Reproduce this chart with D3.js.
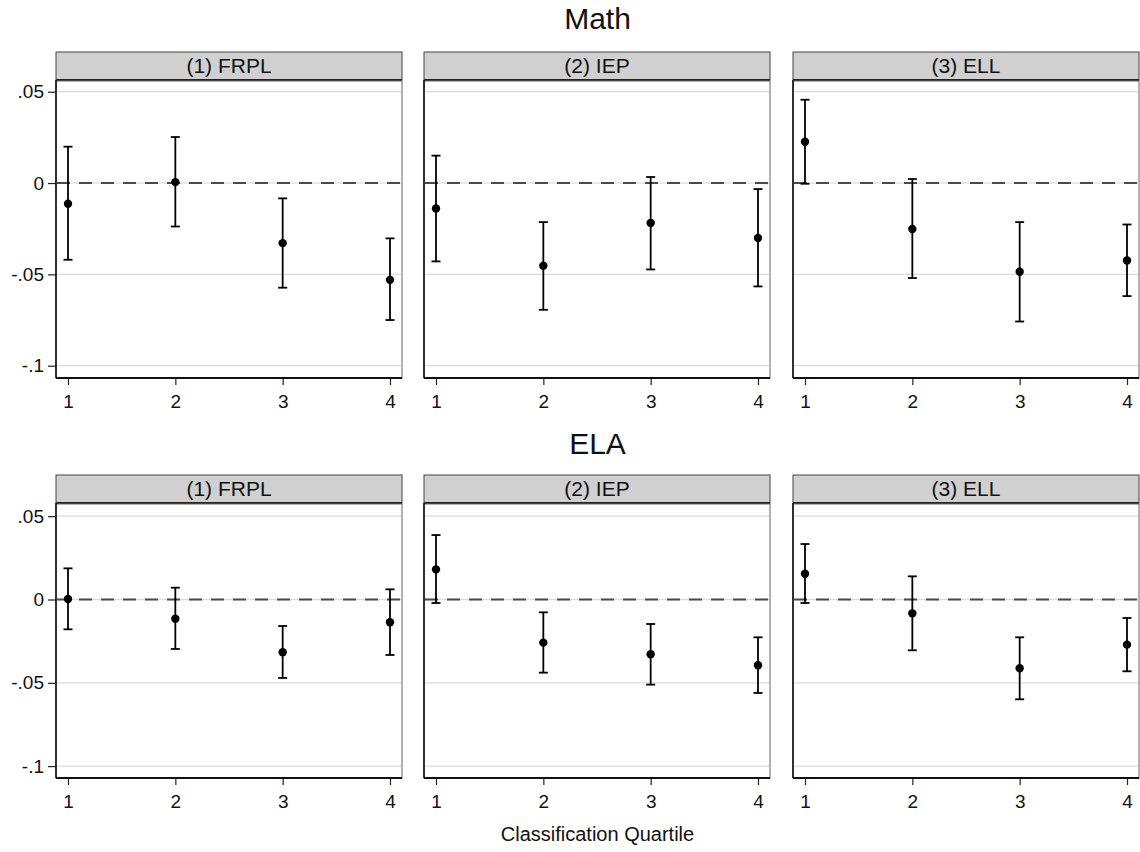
<!DOCTYPE html>
<html>
<head>
<meta charset="utf-8">
<script src="https://cdn.jsdelivr.net/npm/d3@7"></script>
<style>
  body { margin: 0; background: #fff; }
  svg text { font-family: "Liberation Sans", Arial, sans-serif; fill: #111; }
</style>
</head>
<body>
<svg id="chart" width="1140" height="852"></svg>
<script>
// values
const quartiles = [1, 2, 3, 4];
const panelNames = ["(1) FRPL", "(2) IEP", "(3) ELL"];
const subjects = ["Math", "ELA"];
const yTicks = [0.05, 0, -0.05, -0.1];
const yTickLabels = [".05", "0", "-.05", "-.1"];
const xTitle = "Classification Quartile";

const mathEst = [[-0.0113, 0.0005, -0.0329, -0.0530], [-0.0139, -0.0453, -0.0219, -0.0301], [0.0226, -0.0252, -0.0486, -0.0424]];
const mathLo  = [[-0.0420, -0.0238, -0.0573, -0.0750], [-0.0429, -0.0694, -0.0473, -0.0566], [-0.0004, -0.0520, -0.0758, -0.0619]];
const mathHi  = [[0.0199, 0.0252, -0.0084, -0.0303], [0.0150, -0.0214, 0.0033, -0.0033], [0.0456, 0.0022, -0.0214, -0.0227]];

const elaEst = [[0.0003, -0.0115, -0.0317, -0.0137], [0.0181, -0.0259, -0.0329, -0.0395], [0.0155, -0.0083, -0.0413, -0.0271]];
const elaLo  = [[-0.0179, -0.0297, -0.0471, -0.0333], [-0.0021, -0.0439, -0.0511, -0.0561], [-0.0021, -0.0305, -0.0599, -0.0431]];
const elaHi  = [[0.0187, 0.0071, -0.0159, 0.0061], [0.0387, -0.0077, -0.0147, -0.0227], [0.0333, 0.0139, -0.0227, -0.0111]];

const est = [mathEst, elaEst];
const lo = [mathLo, elaLo];
const hi = [mathHi, elaHi];

const svg = d3.select("#chart");

// layout
const panelLeft = [56, 424, 793];
const panelW = 346;
const rows = [
  { titleY: 29, stripTop: 52, stripBot: 80, plotBot: 378, y05: 91.7, y10: 365.7, tickLabY: 408 },
  { titleY: 454, stripTop: 475, stripBot: 503, plotBot: 778, y05: 516.2, y10: 766.1, tickLabY: 808 }
];

rows.forEach((row, r) => {
  svg.append("text")
    .attr("x", 597.5)
    .attr("y", row.titleY)
    .attr("text-anchor", "middle")
    .style("font-size", "30px")
    .text(subjects[r]);

  const y = d3.scaleLinear().domain([-0.1, 0.05]).range([row.y10, row.y05]);

  panelNames.forEach((name, p) => {
    const left = panelLeft[p];
    const right = left + panelW;
    const x = d3.scaleLinear().domain([1, 4]).range([left + 12, right - 12]);
    const g = svg.append("g");

    // header strip
    g.append("rect")
      .attr("x", left).attr("y", row.stripTop)
      .attr("width", panelW).attr("height", row.stripBot - row.stripTop)
      .attr("fill", "#d0d0d0").attr("stroke", "#444").attr("stroke-width", 1);
    g.append("line")
      .attr("x1", left).attr("x2", right)
      .attr("y1", row.stripBot).attr("y2", row.stripBot)
      .attr("stroke", "#222").attr("stroke-width", 2);
    g.append("text")
      .attr("x", (left + right) / 2)
      .attr("y", row.stripBot - 7.5)
      .attr("text-anchor", "middle")
      .style("font-size", "21px")
      .text(name);

    // plot region outline
    g.append("rect")
      .attr("x", left).attr("y", row.stripBot + 1)
      .attr("width", panelW).attr("height", row.plotBot - row.stripBot - 1)
      .attr("fill", "none").attr("stroke", "#666").attr("stroke-width", 1);

    // grid
    g.selectAll(".grid")
      .data(yTicks)
      .enter()
      .append("line")
      .attr("x1", left + 1).attr("x2", right - 1)
      .attr("y1", d => y(d)).attr("y2", d => y(d))
      .attr("stroke", "#dcdcdc").attr("stroke-width", 1.3);

    // zero reference line
    g.append("line")
      .attr("x1", left + 1).attr("x2", right - 1)
      .attr("y1", y(0)).attr("y2", y(0))
      .attr("stroke", "#4a4a4a").attr("stroke-width", 2)
      .attr("stroke-dasharray", "13,9");

    // y axis
    const yAxis = d3.axisLeft(y)
      .tickValues(yTicks)
      .tickSize(p === 0 ? 8 : 0)
      .tickPadding(4)
      .tickFormat((d, i) => p === 0 ? yTickLabels[i] : "");
    const ya = g.append("g").attr("transform", `translate(${left},0)`).call(yAxis);
    ya.select(".domain").remove();
    ya.selectAll(".tick line").attr("stroke", "#222").attr("stroke-width", 1.2);
    ya.selectAll(".tick text").style("font-size", "19px").attr("fill", "#111");
    g.append("line")
      .attr("x1", left).attr("x2", left)
      .attr("y1", row.stripBot).attr("y2", row.plotBot)
      .attr("stroke", "#111").attr("stroke-width", 1.6);

    // x axis
    const xAxis = d3.axisBottom(x).tickValues(quartiles).tickSize(7).tickPadding(5).tickFormat(d3.format("d"));
    const xa = g.append("g").attr("transform", `translate(0,${row.plotBot})`).call(xAxis);
    xa.select(".domain").remove();
    xa.selectAll(".tick line").attr("stroke", "#222").attr("stroke-width", 1.2);
    xa.selectAll(".tick text").style("font-size", "19px").attr("fill", "#111")
      .attr("dy", null).attr("y", row.tickLabY - row.plotBot);
    g.append("line")
      .attr("x1", left).attr("x2", right)
      .attr("y1", row.plotBot).attr("y2", row.plotBot)
      .attr("stroke", "#111").attr("stroke-width", 1.8);

    // estimates with confidence intervals
    const pts = quartiles.map((q, i) => ({ q, est: est[r][p][i], lo: lo[r][p][i], hi: hi[r][p][i] }));
    const bars = g.selectAll(".ci").data(pts).enter().append("g");
    bars.append("line")
      .attr("x1", d => x(d.q)).attr("x2", d => x(d.q))
      .attr("y1", d => y(d.lo)).attr("y2", d => y(d.hi))
      .attr("stroke", "#000").attr("stroke-width", 1.8);
    bars.append("line")
      .attr("x1", d => x(d.q) - 4.5).attr("x2", d => x(d.q) + 4.5)
      .attr("y1", d => y(d.lo)).attr("y2", d => y(d.lo))
      .attr("stroke", "#000").attr("stroke-width", 1.8);
    bars.append("line")
      .attr("x1", d => x(d.q) - 4.5).attr("x2", d => x(d.q) + 4.5)
      .attr("y1", d => y(d.hi)).attr("y2", d => y(d.hi))
      .attr("stroke", "#000").attr("stroke-width", 1.8);
    bars.append("circle")
      .attr("cx", d => x(d.q)).attr("cy", d => y(d.est))
      .attr("r", 4.2)
      .attr("fill", "#000");
  });
});

svg.append("text")
  .attr("x", 597.5)
  .attr("y", 841)
  .attr("text-anchor", "middle")
  .style("font-size", "20px")
  .text(xTitle);
</script>
</body>
</html>
